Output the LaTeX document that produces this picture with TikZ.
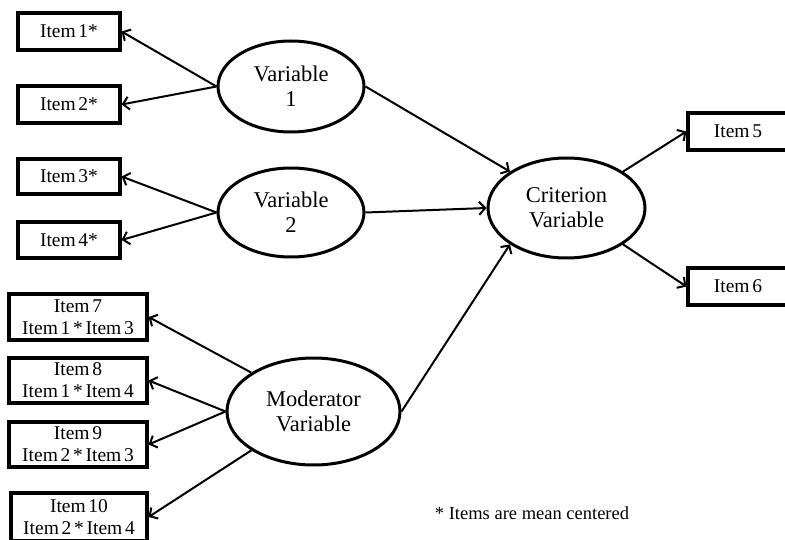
\documentclass[tikz,border=0pt]{standalone}
\usepackage{fontspec}
\setmainfont{Liberation Serif}
\usetikzlibrary{arrows.meta,shapes.geometric}
% item labels are set with tight word spacing
\newcommand\itemlabelfont{\fontsize{19.5}{22}\selectfont\spaceskip 0.14em\relax}
\begin{document}
\begin{tikzpicture}[x=1pt,y=-1pt,
  itembox/.style={draw,line width=3.2pt,inner sep=0pt,align=center,
    font=\itemlabelfont},
  latent/.style={draw,ellipse,line width=3pt,inner sep=0pt,align=center,
    font=\fontsize{22.5}{25}\selectfont},
  path/.style={line width=2pt,-{Straight Barb[length=6pt,width=13pt,line width=2pt]}}]
\useasboundingbox (0,0) rectangle (785,540);

% observed indicators
\node[itembox,minimum width=102pt,minimum height=37pt] (i1) at (69,31.5) {Item 1*};
\node[itembox,minimum width=102pt,minimum height=37pt] (i2) at (69,104.5) {Item 2*};
\node[itembox,minimum width=102pt,minimum height=35pt] (i3) at (69,176.5) {Item 3*};
\node[itembox,minimum width=102pt,minimum height=36pt] (i4) at (69,240) {Item 4*};
\node[itembox,minimum width=100pt,minimum height=37pt] (i5) at (738,131.5) {Item 5};
\node[itembox,minimum width=100pt,minimum height=37pt] (i6) at (738,286.5) {Item 6};
\node[itembox,minimum width=138pt,minimum height=46pt] (i7) at (78,317) {Item 7\\Item 1 * Item 3};
\node[itembox,minimum width=138pt,minimum height=45pt] (i8) at (78,380.5) {Item 8\\Item 1 * Item 4};
\node[itembox,minimum width=138pt,minimum height=45pt] (i9) at (78,444.5) {Item 9\\Item 2 * Item 3};
\node[itembox,minimum width=136pt,minimum height=48pt] (i10) at (79,517) {Item 10\\Item 2 * Item 4};

% latent variables
\node[latent,minimum width=146pt,minimum height=91pt] (v1) at (291,86.5) {Variable\\1};
\node[latent,minimum width=146pt,minimum height=89pt] (v2) at (291,212.5) {Variable\\2};
\node[latent,minimum width=173pt,minimum height=107pt] (mod) at (313.5,411.5) {Moderator\\Variable};
\node[latent,minimum width=157pt,minimum height=100pt] (crit) at (566.5,208) {Criterion\\Variable};

% measurement paths
\draw[path] (v1.west) -- (i1.east);
\draw[path] (v1.west) -- (i2.east);
\draw[path] (v2.west) -- (i3.east);
\draw[path] (v2.west) -- (i4.east);
\draw[path] (mod.north west) -- (i7.east);
\draw[path] (mod.west) -- (i8.east);
\draw[path] (mod.west) -- (i9.east);
\draw[path] (mod.south west) -- (i10.east);
\draw[path] (crit.north east) -- (i5.west);
\draw[path] (crit.south east) -- (i6.west);

% structural paths
\draw[path] (v1.east) -- (crit.north west);
\draw[path] (v2.east) -- (crit.west);
\draw[path] (mod.east) -- (crit.south west);

% footnote
\node[font=\fontsize{18.5}{21}\selectfont,inner sep=0pt] (note) at (532,513) {* Items are mean centered};
\end{tikzpicture}
\end{document}
